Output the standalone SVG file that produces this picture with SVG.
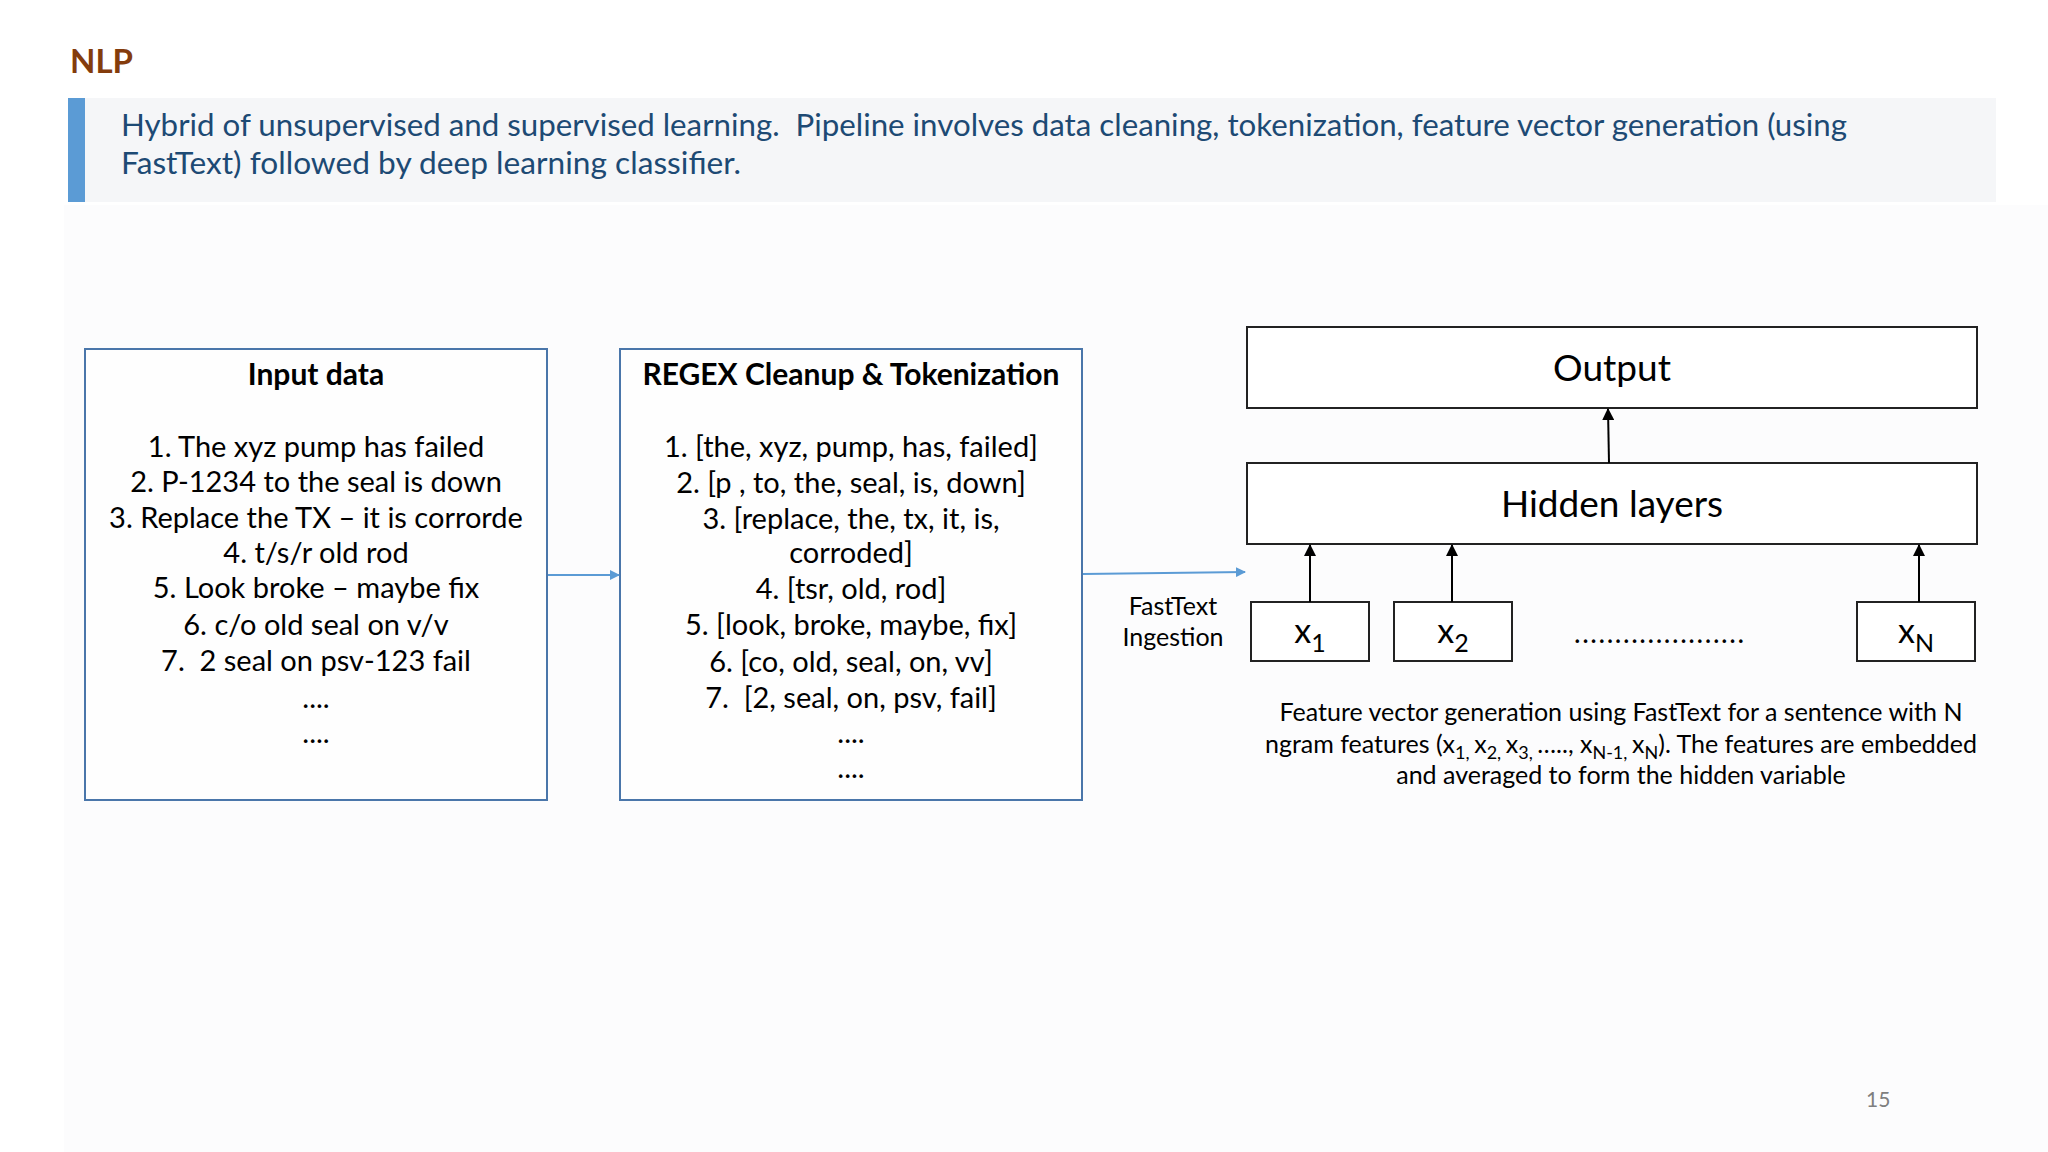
<svg xmlns="http://www.w3.org/2000/svg" width="2048" height="1152" viewBox="0 0 2048 1152">
<style>
.t{font-family:Lato,"Open Sans","Liberation Sans",sans-serif;fill:#000}
.c{text-anchor:middle}
.list{font-size:29px}
.ttl{font-size:30px;font-weight:bold}
.bx{fill:#fefefe;stroke:#4a76aa;stroke-width:2}
.nb{fill:#fff;stroke:#222;stroke-width:2}
.blue{stroke:#5b9bd5;stroke-width:2;fill:none}
.blk{stroke:#000;stroke-width:2;fill:none}
</style>
<defs>
<marker id="ab" markerWidth="10" markerHeight="10" refX="9" refY="5" orient="auto" markerUnits="userSpaceOnUse" viewBox="0 0 10 10"><path d="M0,0 L10,5 L0,10 z" fill="#5b9bd5"/></marker>
<marker id="ak" markerWidth="12" markerHeight="12" refX="11" refY="6" orient="auto" markerUnits="userSpaceOnUse" viewBox="0 0 12 12"><path d="M0,0 L12,6 L0,12 z" fill="#000"/></marker>
</defs>
<rect width="2048" height="1152" fill="#fff"/>
<rect x="64" y="205" width="1984" height="947" fill="#fcfcfd"/>
<g id="header">
<text class="t" x="70" y="73" font-size="33" font-weight="bold" style="fill:#843c0c">NLP</text>
<rect x="85" y="98" width="1911" height="104" fill="#f5f6f8"/>
<rect x="68" y="98" width="17" height="104" fill="#5b9bd5"/>
<text class="t" x="121" y="136" font-size="31" xml:space="preserve" textLength="1726" lengthAdjust="spacingAndGlyphs" style="fill:#1d4a74">Hybrid of unsupervised and supervised learning.  Pipeline involves data cleaning, tokenization, feature vector generation (using</text>
<text class="t" x="121" y="174" font-size="31" textLength="620" lengthAdjust="spacingAndGlyphs" style="fill:#1d4a74">FastText) followed by deep learning classifier.</text>
</g>
<g id="input-data">
<rect class="bx" x="85" y="349" width="462" height="451"/>
<text class="t c ttl" x="316" y="385">Input data</text>
<text class="t c list" x="316" y="457">1. The xyz pump has failed</text>
<text class="t c list" x="316" y="492">2. P-1234 to the seal is down</text>
<text class="t c list" x="316" y="528">3. Replace the TX – it is corrorde</text>
<text class="t c list" x="316" y="563">4. t/s/r old rod</text>
<text class="t c list" x="316" y="598">5. Look broke – maybe fix</text>
<text class="t c list" x="316" y="635">6. c/o old seal on v/v</text>
<text class="t c list" x="316" y="671" xml:space="preserve">7.  2 seal on psv-123 fail</text>
<text class="t c list" x="316" y="708">....</text>
<text class="t c list" x="316" y="743">....</text>
</g>
<g id="regex">
<rect class="bx" x="620" y="349" width="462" height="451"/>
<text class="t c ttl" x="851" y="385">REGEX Cleanup &amp; Tokenization</text>
<text class="t c list" x="851" y="457">1. [the, xyz, pump, has, failed]</text>
<text class="t c list" x="851" y="493">2. [p , to, the, seal, is, down]</text>
<text class="t c list" x="851" y="529">3. [replace, the, tx, it, is,</text>
<text class="t c list" x="851" y="563">corroded]</text>
<text class="t c list" x="851" y="599">4. [tsr, old, rod]</text>
<text class="t c list" x="851" y="635">5. [look, broke, maybe, fix]</text>
<text class="t c list" x="851" y="672">6. [co, old, seal, on, vv]</text>
<text class="t c list" x="851" y="708" xml:space="preserve">7.  [2, seal, on, psv, fail]</text>
<text class="t c list" x="851" y="743">....</text>
<text class="t c list" x="851" y="778">....</text>
</g>
<g id="output">
<rect class="nb" x="1247" y="327" width="730" height="81"/>
<text class="t c" x="1612" y="381" font-size="37">Output</text>
</g>
<g id="hidden-layers">
<rect class="nb" x="1247" y="463" width="730" height="81"/>
<text class="t c" x="1612" y="517" font-size="37">Hidden layers</text>
</g>
<g id="x1">
<rect class="nb" x="1251" y="602" width="118" height="59"/>
<text class="t c" x="1310" y="643" font-size="34">x<tspan font-size="25" dy="9">1</tspan></text>
</g>
<g id="x2">
<rect class="nb" x="1394" y="602" width="118" height="59"/>
<text class="t c" x="1453" y="643" font-size="34">x<tspan font-size="25" dy="9">2</tspan></text>
</g>
<g id="dots">
<text class="t" x="1574" y="643" font-size="28" textLength="170" lengthAdjust="spacing">.....................</text>
</g>
<g id="xN">
<rect class="nb" x="1857" y="602" width="118" height="59"/>
<text class="t c" x="1916" y="643" font-size="34">x<tspan font-size="25" dy="9">N</tspan></text>
</g>
<g id="labels">
<text class="t c" x="1173" y="615" font-size="25">FastText</text>
<text class="t c" x="1173" y="646" font-size="25">Ingestion</text>
<text class="t c" x="1621" y="721" font-size="25">Feature vector generation using FastText for a sentence with N</text>
<text class="t c" x="1621" y="753" font-size="25">ngram features (x<tspan font-size="18" dy="6">1, </tspan><tspan dy="-6">x</tspan><tspan font-size="18" dy="6">2, </tspan><tspan dy="-6">x</tspan><tspan font-size="18" dy="6">3, </tspan><tspan dy="-6">….., x</tspan><tspan font-size="18" dy="6">N-1, </tspan><tspan dy="-6">x</tspan><tspan font-size="18" dy="6">N</tspan><tspan dy="-6">). The features are embedded</tspan></text>
<text class="t c" x="1621" y="784" font-size="25">and averaged to form the hidden variable</text>
<text class="t" x="1866" y="1107" font-size="21" style="fill:#7f7f7f">15</text>
</g>
<g id="connectors">
<line class="blue" x1="548" y1="575" x2="619" y2="575" marker-end="url(#ab)"/>
<line class="blue" x1="1083" y1="574" x2="1245" y2="572" marker-end="url(#ab)"/>
<line class="blk" x1="1310" y1="602" x2="1310" y2="545" marker-end="url(#ak)"/>
<line class="blk" x1="1452" y1="602" x2="1452" y2="545" marker-end="url(#ak)"/>
<line class="blk" x1="1919" y1="602" x2="1919" y2="545" marker-end="url(#ak)"/>
<line class="blk" x1="1609" y1="463" x2="1608" y2="409" marker-end="url(#ak)"/>
</g>
</svg>
